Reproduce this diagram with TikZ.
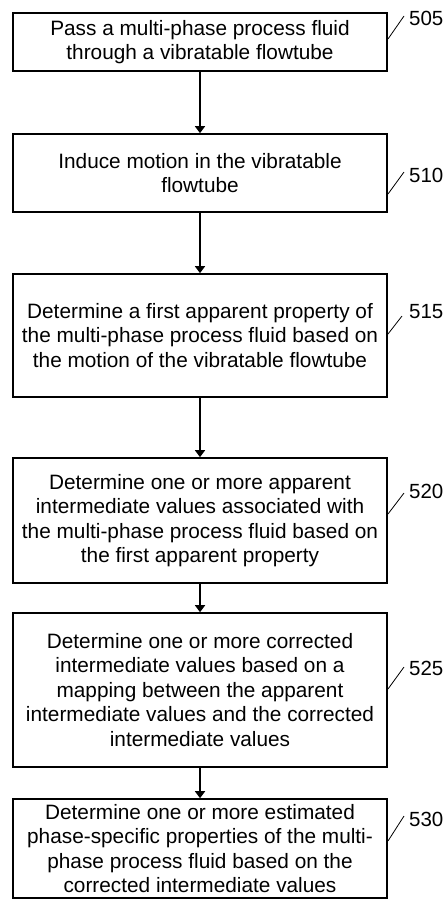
\documentclass[tikz,border=0pt]{standalone}
\usepackage{fontspec}
\setmainfont{Liberation Sans}
\usetikzlibrary{arrows.meta}
\begin{document}
\begin{tikzpicture}[x=1pt,y=-1pt,
  stepbox/.style={draw, line width=1.6pt, minimum width=374pt, align=center, inner sep=0pt,
    font=\fontsize{20.8}{24.5}\selectfont},
  flow/.style={line width=1.6pt, -{Triangle[length=7pt,width=10pt]}},
  reflabel/.style={font=\fontsize{20.5}{24}\selectfont, anchor=west, inner sep=0pt},
  tick/.style={line width=0.8pt}]
\useasboundingbox (0,0) rectangle (446,900);
\node[stepbox, minimum height=58pt] (b1) at (200,42) {Pass a multi-phase process fluid\\through a vibratable flowtube};
\node[stepbox, minimum height=78pt] (b2) at (200,173) {Induce motion in the vibratable\\flowtube};
\node[stepbox, minimum height=123pt] (b3) at (200,335.5) {Determine a first apparent property of\\the multi-phase process fluid based on\\the motion of the vibratable flowtube};
\node[stepbox, minimum height=125pt] (b4) at (200,520.5) {Determine one or more apparent\\intermediate values associated with\\the multi-phase process fluid based on\\the first apparent property};
\node[stepbox, minimum height=154pt] (b5) at (200,690) {Determine one or more corrected\\intermediate values based on a\\mapping between the apparent\\intermediate values and the corrected\\intermediate values};
\node[stepbox, minimum height=99pt] (b6) at (200,848.5) {Determine one or more estimated\\phase-specific properties of the multi-\\phase process fluid based on the\\corrected intermediate values};
\draw[flow] (b1) -- (b2);
\draw[flow] (b2) -- (b3);
\draw[flow] (b3) -- (b4);
\draw[flow] (b4) -- (b5);
\draw[flow] (b5) -- (b6);
\node[reflabel] (l1) at (409,18) {505};
\node[reflabel] (l2) at (409,175) {510};
\node[reflabel] (l3) at (409,312) {515};
\node[reflabel] (l4) at (409,491) {520};
\node[reflabel] (l5) at (409,668) {525};
\node[reflabel] (l6) at (409,819) {530};
\coordinate (t1a) at (388,39); \coordinate (t1b) at (404,16);
\coordinate (t2a) at (388,194); \coordinate (t2b) at (404,172);
\coordinate (t3a) at (388,334); \coordinate (t3b) at (402,316);
\coordinate (t4a) at (388,514); \coordinate (t4b) at (404,493);
\coordinate (t5a) at (388,689); \coordinate (t5b) at (404,667);
\coordinate (t6a) at (388,841); \coordinate (t6b) at (404,816);
\draw[tick] (t1a) -- (t1b);
\draw[tick] (t2a) -- (t2b);
\draw[tick] (t3a) -- (t3b);
\draw[tick] (t4a) -- (t4b);
\draw[tick] (t5a) -- (t5b);
\draw[tick] (t6a) -- (t6b);
\end{tikzpicture}
\end{document}
